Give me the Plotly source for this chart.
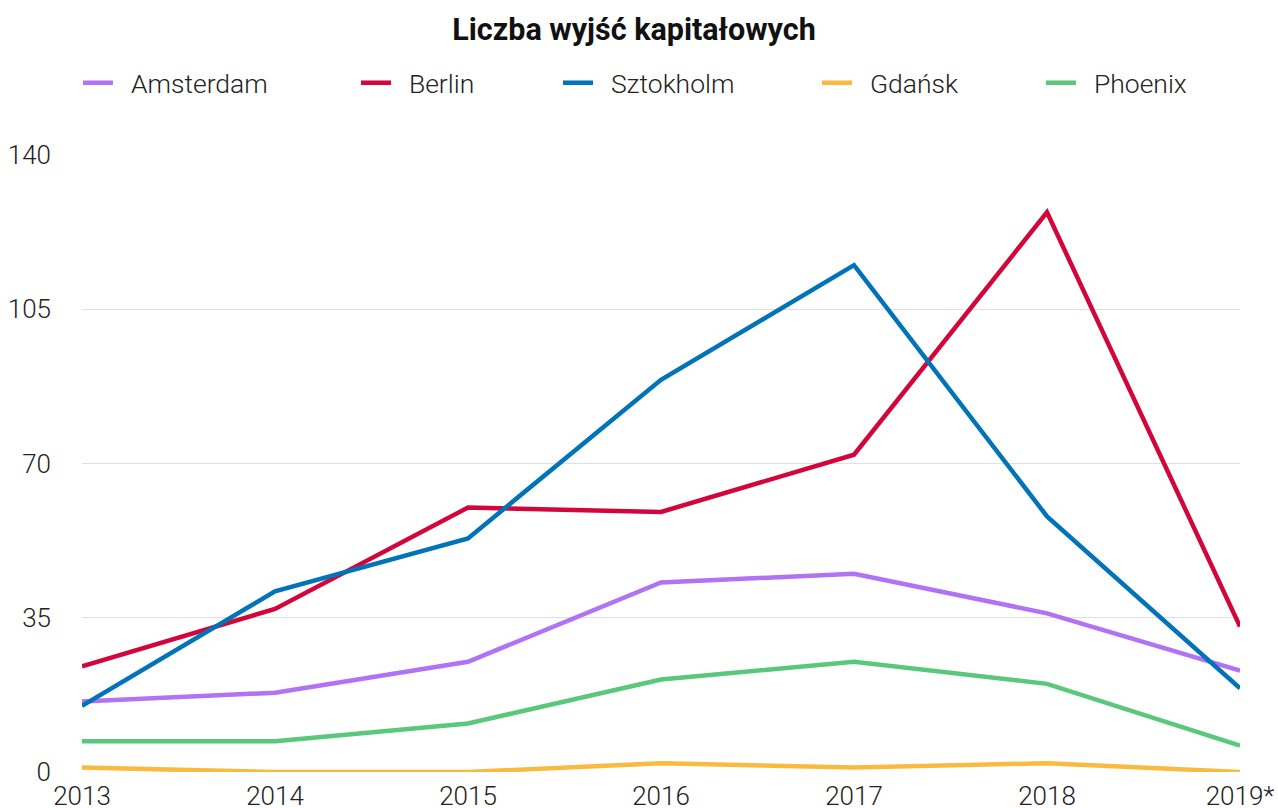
import plotly.graph_objects as go

years = [2013, 2014, 2015, 2016, 2017, 2018, 2019]
year_labels = ["2013", "2014", "2015", "2016", "2017", "2018", "2019*"]
y_ticks = [0, 35, 70, 105, 140]

amsterdam = [16, 18, 25, 43, 45, 36, 23]
berlin = [24, 37, 60, 59, 72, 127, 33]
sztokholm = [15, 41, 53, 89, 115, 58, 19]
gdansk = [1, 0, 0, 2, 1, 2, 0]
phoenix = [7, 7, 11, 21, 25, 20, 6]

series = [
    ("Amsterdam", amsterdam, "#b172f3"),
    ("Berlin", berlin, "#d2063b"),
    ("Sztokholm", sztokholm, "#0073b9"),
    ("Gdańsk", gdansk, "#f9bb3f"),
    ("Phoenix", phoenix, "#5ac87b"),
]
legend_px = [78, 356, 558, 817, 1041]

L, R, T, B = 82, 38, 155, 36
W, H = 1278, 808
pw = W - L - R

fig = go.Figure()
layout_legends = {}
for i, ((name, vals, col), lx) in enumerate(zip(series, legend_px)):
    lname = "legend" if i == 0 else f"legend{i+1}"
    fig.add_trace(go.Scatter(
        x=years, y=vals, name="\u00a0\u00a0" + name, mode="lines",
        line=dict(color=col, width=4.5),
        legend=lname, cliponaxis=False,
    ))
    layout_legends[lname] = dict(
        x=(lx - L) / pw, xref="paper", xanchor="left",
        y=1 - 83 / H, yref="container", yanchor="middle",
        orientation="h", bgcolor="rgba(0,0,0,0)",
        font=dict(family="Roboto Light, Roboto", size=26.5, color="#222222"),
        itemwidth=30,
    )

fig.update_layout(
    width=W, height=H,
    margin=dict(l=L, r=R, t=T, b=B, autoexpand=False),
    paper_bgcolor="white", plot_bgcolor="white",
    title=dict(text="<b>Liczba wyjść kapitałowych</b>", x=634 / W, xref="container",
               xanchor="center", y=1 - 29 / H, yref="container", yanchor="middle",
               font=dict(family="Roboto", size=30.5, color="#111111")),
    showlegend=True,
    **layout_legends,
)

fig.update_xaxes(
    range=[2013, 2019], tickvals=years, ticktext=year_labels,
    showgrid=False, zeroline=False, showline=False, ticks="",
    tickfont=dict(family="Roboto Light, Roboto", size=26, color="#222222"),
    automargin=False, ticklabelstandoff=6,
)
fig.update_yaxes(
    range=[0, 140], tickvals=y_ticks, showgrid=True, gridcolor="#dcdfe8",
    gridwidth=1, zeroline=False, showline=False, ticks="",
    tickfont=dict(family="Roboto Light, Roboto", size=26, color="#222222"),
    ticklabelstandoff=30, automargin=False,
)

fig.write_html(
    "out.html",
    config={"displayModeBar": False},
    post_script="document.body.style.margin='0';document.body.style.overflow='hidden';",
)
